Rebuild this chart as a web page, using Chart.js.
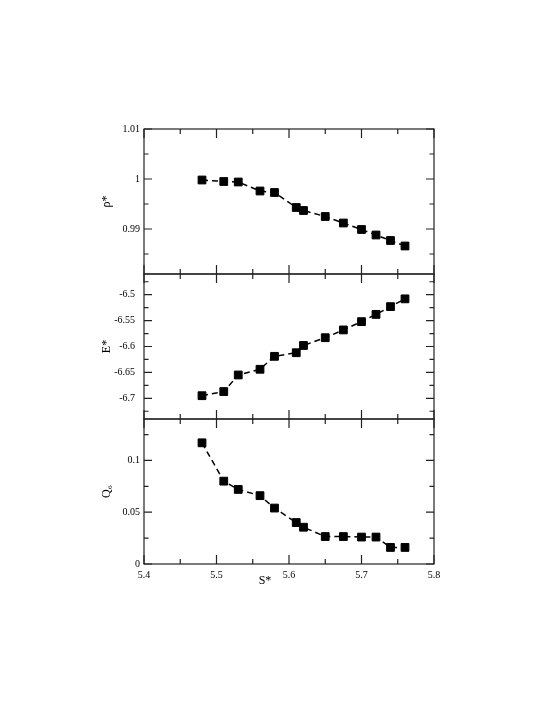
<!DOCTYPE html>
<html><head><meta charset="utf-8">
<script src="https://cdn.jsdelivr.net/npm/chart.js@4.4.1/dist/chart.umd.min.js"></script>
<style>
html,body{margin:0;padding:0;background:#fff;}
#wrap{position:relative;width:545px;height:705px;}
#wrap canvas{position:absolute;left:0;top:0;}
</style></head><body>
<div id="wrap">
<canvas id="c1" width="545" height="705"></canvas>
<canvas id="c2" width="545" height="705"></canvas>
<canvas id="c3" width="545" height="705"></canvas>
</div>
<script>
const sValues = [5.48, 5.51, 5.53, 5.56, 5.58, 5.61, 5.62, 5.65, 5.675, 5.70, 5.72, 5.74, 5.76];
const rhoValues = [0.9998, 0.9995, 0.9994, 0.9976, 0.9973, 0.9943, 0.9937, 0.9925, 0.9912, 0.9899, 0.9888, 0.9877, 0.9866];
const energyValues = [-6.695, -6.687, -6.655, -6.644, -6.619, -6.612, -6.598, -6.583, -6.568, -6.552, -6.538, -6.523, -6.508];
const q6Values = [0.117, 0.080, 0.072, 0.066, 0.054, 0.040, 0.0355, 0.0265, 0.0265, 0.026, 0.026, 0.016, 0.016];

const sTicks = [5.4, 5.5, 5.6, 5.7, 5.8];
const sMinorTicks = [5.45, 5.55, 5.65, 5.75];
const rhoTicks = [0.99, 1.0, 1.01];
const rhoMinorTicks = [0.985, 0.995, 1.005];
const energyTicks = [-6.7, -6.65, -6.6, -6.55, -6.5];
const energyMinorTicks = [-6.725, -6.675, -6.625, -6.575, -6.525, -6.475];
const q6Ticks = [0, 0.05, 0.1];
const q6MinorTicks = [0.025, 0.075, 0.125];

const fmt = v => String(+Number(v).toFixed(4));
const FONT = 'Liberation Serif';

function makeFrame(yMajor, yMinor) {
  return {
    id: 'frameTicks',
    beforeDatasetsDraw(chart) {
      const {ctx, chartArea: a, scales: {x, y}} = chart;
      ctx.save();
      ctx.strokeStyle = '#222';
      ctx.lineWidth = 1.2;
      ctx.strokeRect(a.left, a.top, a.right - a.left, a.bottom - a.top);
      ctx.beginPath();
      const xt = (vals, len) => vals.forEach(v => {
        const px = x.getPixelForValue(v);
        ctx.moveTo(px, a.bottom); ctx.lineTo(px, a.bottom - len);
        ctx.moveTo(px, a.top); ctx.lineTo(px, a.top + len);
      });
      const yt = (vals, len) => vals.forEach(v => {
        const py = y.getPixelForValue(v);
        ctx.moveTo(a.left, py); ctx.lineTo(a.left + len, py);
        ctx.moveTo(a.right, py); ctx.lineTo(a.right - len, py);
      });
      xt(sTicks, 9); xt(sMinorTicks, 5);
      yt(yMajor, 8); yt(yMinor, 4.5);
      ctx.stroke();
      ctx.restore();
    }
  };
}

function makePanel(id, yValues, yMin, yMax, yMajor, yMinor, yTitle, padTop, padBottom, showX, labelPad) {
  return new Chart(document.getElementById(id), {
    type: 'line',
    data: {
      datasets: [{
        data: sValues.map((s, i) => ({x: s, y: yValues[i]})),
        borderColor: '#000', backgroundColor: '#000',
        borderWidth: 1.5, borderDash: [6, 4],
        pointStyle: 'rect', pointRadius: 5.5, pointBorderWidth: 1,
        pointBackgroundColor: '#000', pointBorderColor: '#000',
        tension: 0, fill: false
      }]
    },
    options: {
      responsive: false, animation: false, devicePixelRatio: 1, events: [],
      layout: {padding: {left: 96, right: 111, top: padTop, bottom: padBottom}},
      plugins: {legend: {display: false}, tooltip: {enabled: false}},
      scales: {
        x: {
          type: 'linear', min: 5.4, max: 5.8, display: showX,
          afterBuildTicks: s => { s.ticks = sTicks.map(v => ({value: v})); },
          afterFit: s => { s.height = showX ? 30 : 0; },
          grid: {display: false, drawTicks: false}, border: {display: false},
          ticks: {padding: 5, font: {family: FONT, size: 10}, color: '#000', maxRotation: 0, autoSkip: false, callback: v => fmt(v)},
          title: {display: true, text: 'S*\u2003\u2003\u2003\u2003', font: {family: FONT, size: 12}, color: '#000', padding: {top: 0, bottom: 6}}
        },
        y: {
          type: 'linear', min: yMin, max: yMax,
          afterBuildTicks: s => { s.ticks = yMajor.map(v => ({value: v})); },
          afterFit: s => { s.width = 48; },
          grid: {display: false, drawTicks: false}, border: {display: false},
          ticks: {padding: labelPad, font: {family: FONT, size: 10}, color: '#000', autoSkip: false, callback: v => fmt(v)},
          title: {display: true, text: yTitle, font: {family: FONT, size: 12}, color: '#000', padding: {top: 4, bottom: 4}}
        }
      }
    },
    plugins: [makeFrame(yMajor, yMinor)]
  });
}

makePanel('c1', rhoValues, 0.981, 1.01, rhoTicks, rhoMinorTicks, 'ρ*', 129, 705 - 274, false, 4);
makePanel('c2', energyValues, -6.74, -6.46, energyTicks, energyMinorTicks, 'E*', 274, 705 - 419, false, 9);
makePanel('c3', q6Values, 0, 0.14, q6Ticks, q6MinorTicks, 'Q₆', 419, 705 - 564 - 30, true, 4);
</script>
</body></html>
